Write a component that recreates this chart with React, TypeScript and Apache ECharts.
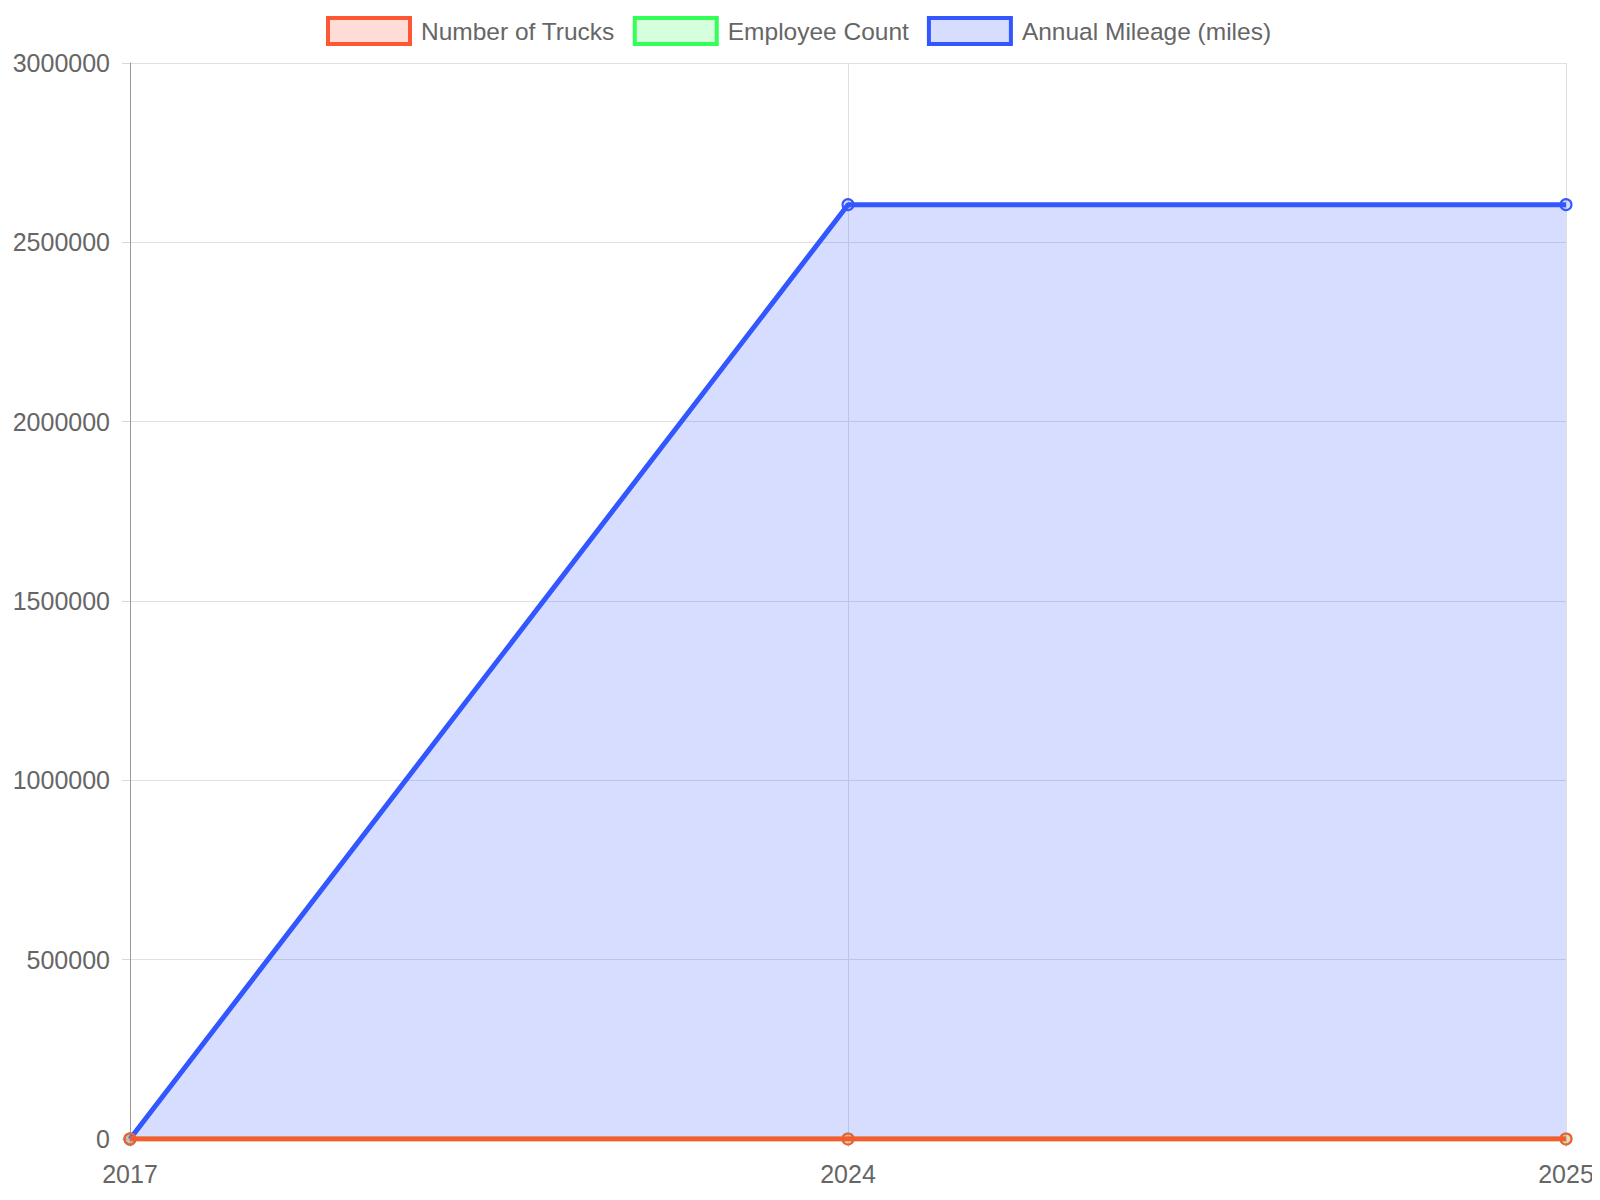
import React, { useEffect, useRef } from "react";
import * as echarts from "echarts";

const years = ["2017", "2024", "2025"];
const numberOfTrucks = [1, 12, 12];
const employeeCount = [2, 15, 15];
const annualMileage = [0, 2605000, 2605000];
const yTicks = { min: 0, max: 3000000, interval: 500000 };

const seriesDefs = [
  { name: "Number of Trucks", data: numberOfTrucks, color: "#FF5733", fill: "rgba(255,87,51,0.2)", z: 5 },
  { name: "Employee Count", data: employeeCount, color: "#33FF57", fill: "rgba(51,255,87,0.2)", z: 4 },
  { name: "Annual Mileage (miles)", data: annualMileage, color: "#3357FF", fill: "rgba(51,87,255,0.2)", z: 3 },
];

export default function App() {
  const ref = useRef<HTMLDivElement>(null);
  useEffect(() => {
    if (!ref.current) return;
    const chart = echarts.init(ref.current, undefined, { renderer: "svg" });
    const font = "Liberation Sans, Arial, sans-serif";
    chart.setOption({
      animation: false,
      textStyle: { fontFamily: font },
      legend: {
        top: 3,
        left: 313,
        itemWidth: 82,
        itemHeight: 26,
        itemGap: 18,
        icon: "rect",
        textStyle: { fontSize: 24.5, color: "#666", fontFamily: font, padding: [0, 0, 0, 6] },
        data: seriesDefs.map((s) => ({
          name: s.name,
          icon: "rect",
          itemStyle: { color: s.fill, borderColor: s.color, borderWidth: 4 },
        })),
      },
      grid: { left: 122, right: 34, top: 55, bottom: 53, containLabel: false, outerBoundsMode: "none" },
      xAxis: {
        type: "category",
        boundaryGap: false,
        data: years,
        axisLine: { show: true, lineStyle: { color: "#999", width: 1 } },
        axisTick: { show: true, length: 8, alignWithLabel: true, lineStyle: { color: "#d8d8d8" } },
        axisLabel: { fontSize: 25, color: "#666", margin: 22, fontFamily: font, hideOverlap: false },
        splitLine: { show: true, lineStyle: { color: "#e0e0e0", width: 1 } },
      },
      yAxis: {
        type: "value",
        min: yTicks.min,
        max: yTicks.max,
        interval: yTicks.interval,
        axisLine: { show: true, lineStyle: { color: "#999", width: 1 } },
        axisTick: { show: true, length: 8, lineStyle: { color: "#d8d8d8" } },
        axisLabel: { fontSize: 25, color: "#666", margin: 20, fontFamily: font, formatter: (v: number) => String(v) },
        splitLine: { show: true, lineStyle: { color: "#e0e0e0", width: 1 } },
      },
      series: seriesDefs.map((s) => ({
        name: s.name,
        type: "line",
        data: s.data,
        z: s.z,
        symbol: "circle",
        symbolSize: 11,
        showSymbol: true,
        lineStyle: { color: s.color, width: 5 },
        itemStyle: { color: s.fill, borderColor: s.color, borderWidth: 2 },
        areaStyle: { color: s.fill, opacity: 1, origin: "start" },
        emphasis: { disabled: true },
      })),
    });
    return () => chart.dispose();
  }, []);
  return <div ref={ref} style={{ width: 1592, height: 1184 }} />;
}
